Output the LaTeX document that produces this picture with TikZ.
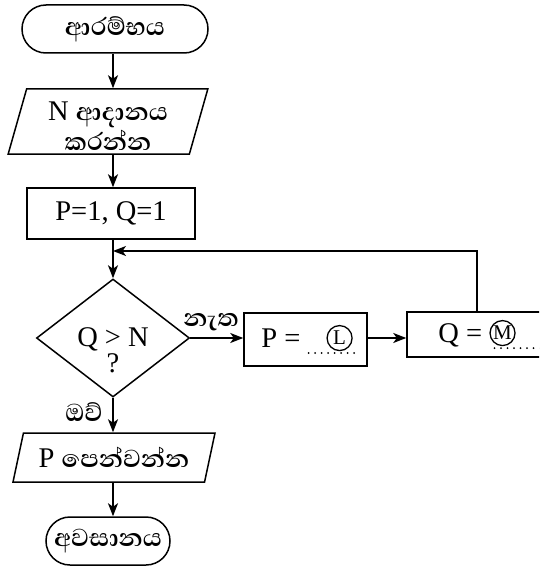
\documentclass[tikz,border=0pt]{standalone}
\usepackage{fontspec}
\setmainfont{Liberation Serif}
\newfontfamily\sinhalafont[Script=Sinhala]{Abhaya Libre}
\usetikzlibrary{arrows.meta,positioning,shapes.geometric,shapes.misc}
\tikzset{
  term/.style={draw,rounded rectangle,line width=1.5pt,inner sep=0pt,minimum height=48pt},
  io/.style={draw,trapezium,trapezium stretches=true,line width=1.5pt,inner sep=0pt,align=center},
  proc/.style={draw,rectangle,line width=1.5pt,inner sep=0pt},
  decide/.style={draw,diamond,line width=1.5pt,inner sep=0pt},
  flow/.style={line width=1.5pt,-{Stealth[length=13pt,width=10pt,inset=3.5pt]}},
  lbl/.style={inner sep=0pt,align=center},
  ringed/.style={draw,circle,line width=1.3pt,inner sep=0pt,minimum size=25pt,font=\fontsize{21}{21}\selectfont},
  blankline/.style={line width=2pt,line cap=round,dash pattern=on 0pt off 6.5pt},
}
\newcommand{\sitext}[1]{{\sinhalafont\bfseries\fontsize{31.5}{31.5}\selectfont #1}}
% dotted blank with a ringed letter on it
\newcommand{\fillin}[3]{\tikz[baseline=0pt]{\draw[blankline] (0pt,-6pt) -- (52pt,-6pt);
  \node[ringed] (#1) at (#2,9pt) {#3};}}

\begin{document}
\begin{tikzpicture}[x=1pt,y=-1pt,font=\fontsize{28.5}{26}\selectfont]
  \useasboundingbox (0,0) rectangle (539,567);
  \clip (0,0) rectangle (539,567);
  \coordinate (col) at (113,0);
  % main column
  \node[term,minimum width=186pt] (start) at (115,29) {\sitext{ආරම්භය}};
  \node[io,trapezium left angle=77,trapezium right angle=103,
        minimum width=200pt,minimum height=65pt] (read) at (108,121.5)
        {\rule{0pt}{28pt}N \sitext{ආදානය}\\[2pt]\sitext{කරන්න}};
  \node[proc,minimum width=168pt,minimum height=51pt] (init) at (111,213.5) {P=1, Q=1};
  \node[decide,minimum width=153pt,minimum height=118pt] (test) at (113,338) {};
  \node[lbl] (cond) at ([yshift=-12pt]test.center) {Q > N\\ ?};
  \node[io,trapezium left angle=67,trapezium right angle=113,
        minimum width=202pt,minimum height=49pt] (show) at (114,457.5)
        {P \sitext{පෙන්වන්න}};
  \node[term,minimum width=124pt] (stop) at (108,541) {\sitext{අවසානය}};
  % loop body
  \node[proc,minimum width=123pt,minimum height=53pt] (pset) at (305.5,339.5)
        {\hspace{12pt}P = \fillin{lmark}{31pt}{L}};
  \node[proc,minimum width=172pt,minimum height=45pt] (qset) at (493,334.5)
        {Q = \fillin{mmark}{8pt}{M}};
  \coordinate (join) at (113,251);
  \coordinate (looptop) at (477,251);
  % connectors
  \draw[flow] (start.south -| col) -- (read.north -| col);
  \draw[flow] (read.south -| col) -- (init.north -| col);
  \draw[flow] (init.south -| col) -- (test.north);
  \draw[flow] (test.south) -- (show.north -| col);
  \draw[flow] (show.south -| col) -- (stop.north -| col);
  \draw[flow] (test.east) -- (test.east -| pset.west);
  \draw[flow] (test.east -| pset.east) -- (test.east -| qset.west);
  \draw[flow] (qset.north -| looptop) -- (looptop) -- (join);
  \node[lbl] (no) at (211,322) {\sitext{නැත}};
  \node[lbl] (yes) at (84,412) {\sitext{ඔව්}};
\end{tikzpicture}
\end{document}
